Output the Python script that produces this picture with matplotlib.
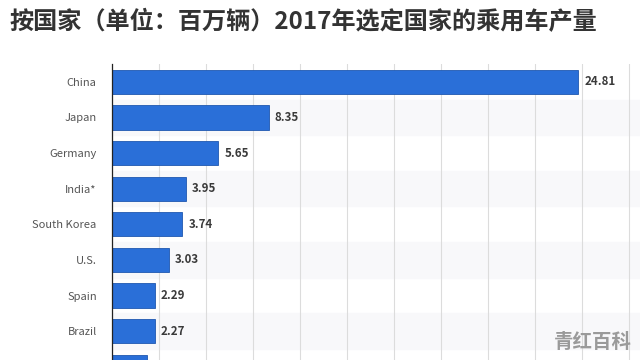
import matplotlib
matplotlib.use('Agg')
import matplotlib.pyplot as plt
from matplotlib.ticker import MultipleLocator

plt.rcParams['font.family'] = ['Noto Sans CJK SC', 'DejaVu Sans']

title = '按国家（单位：百万辆）2017年选定国家的乘用车产量'
countries = ['China', 'Japan', 'Germany', 'India*', 'South Korea', 'U.S.',
             'Spain', 'Brazil', 'Mexico']
production = [24.81, 8.35, 5.65, 3.95, 3.74, 3.03, 2.29, 2.27, 1.86]
shown_labels = 8  # last row is cut off by the image edge

fig = plt.figure(figsize=(6.4, 3.6), dpi=100)
ax = fig.add_axes([112 / 640, 0.0, 528 / 640, 1 - 64 / 360])

pos = list(range(len(countries)))
# faint alternating row bands
for i in pos:
    if i % 2 == 1:
        ax.axhspan(i - 0.5, i + 0.5, color='#f8f8fa', zorder=0)

ax.barh(pos, production, height=0.68, color='#2a6fd8',
        edgecolor='#1f58b0', linewidth=0.6, zorder=3)

for i, v in enumerate(production[:shown_labels]):
    ax.text(v + 0.32, i, f'{v:.2f}', va='center', ha='left',
            fontsize=8.3, fontweight='bold', color='#3a3a3a', zorder=4)

ax.set_xlim(0, 28.1)
ax.set_ylim(7.81, -0.5)
ax.xaxis.set_major_locator(MultipleLocator(2.5))
ax.grid(axis='x', color='#dcdcdc', linewidth=0.8, zorder=1)
ax.set_xticklabels([])
ax.tick_params(axis='x', length=0)
ax.set_yticks(pos[:shown_labels])
ax.set_yticklabels(countries[:shown_labels], fontsize=8, color='#555555')
ax.tick_params(axis='y', length=0, pad=11)
for s in ['top', 'right', 'bottom']:
    ax.spines[s].set_visible(False)
ax.spines['left'].set_color('#222222')
ax.spines['left'].set_linewidth(0.9)
ax.spines['left'].set_zorder(5)

fig.text(9 / 640, 1 - 22 / 360, title, fontsize=17.4, fontweight='bold',
         color='#333333', va='center', ha='left')
fig.text(632 / 640, 1 - 342 / 360, '青红百科', fontsize=14, fontweight='bold',
         color='#9a9a9a', va='center', ha='right', zorder=10)

fig.savefig('out.png', dpi=100)
